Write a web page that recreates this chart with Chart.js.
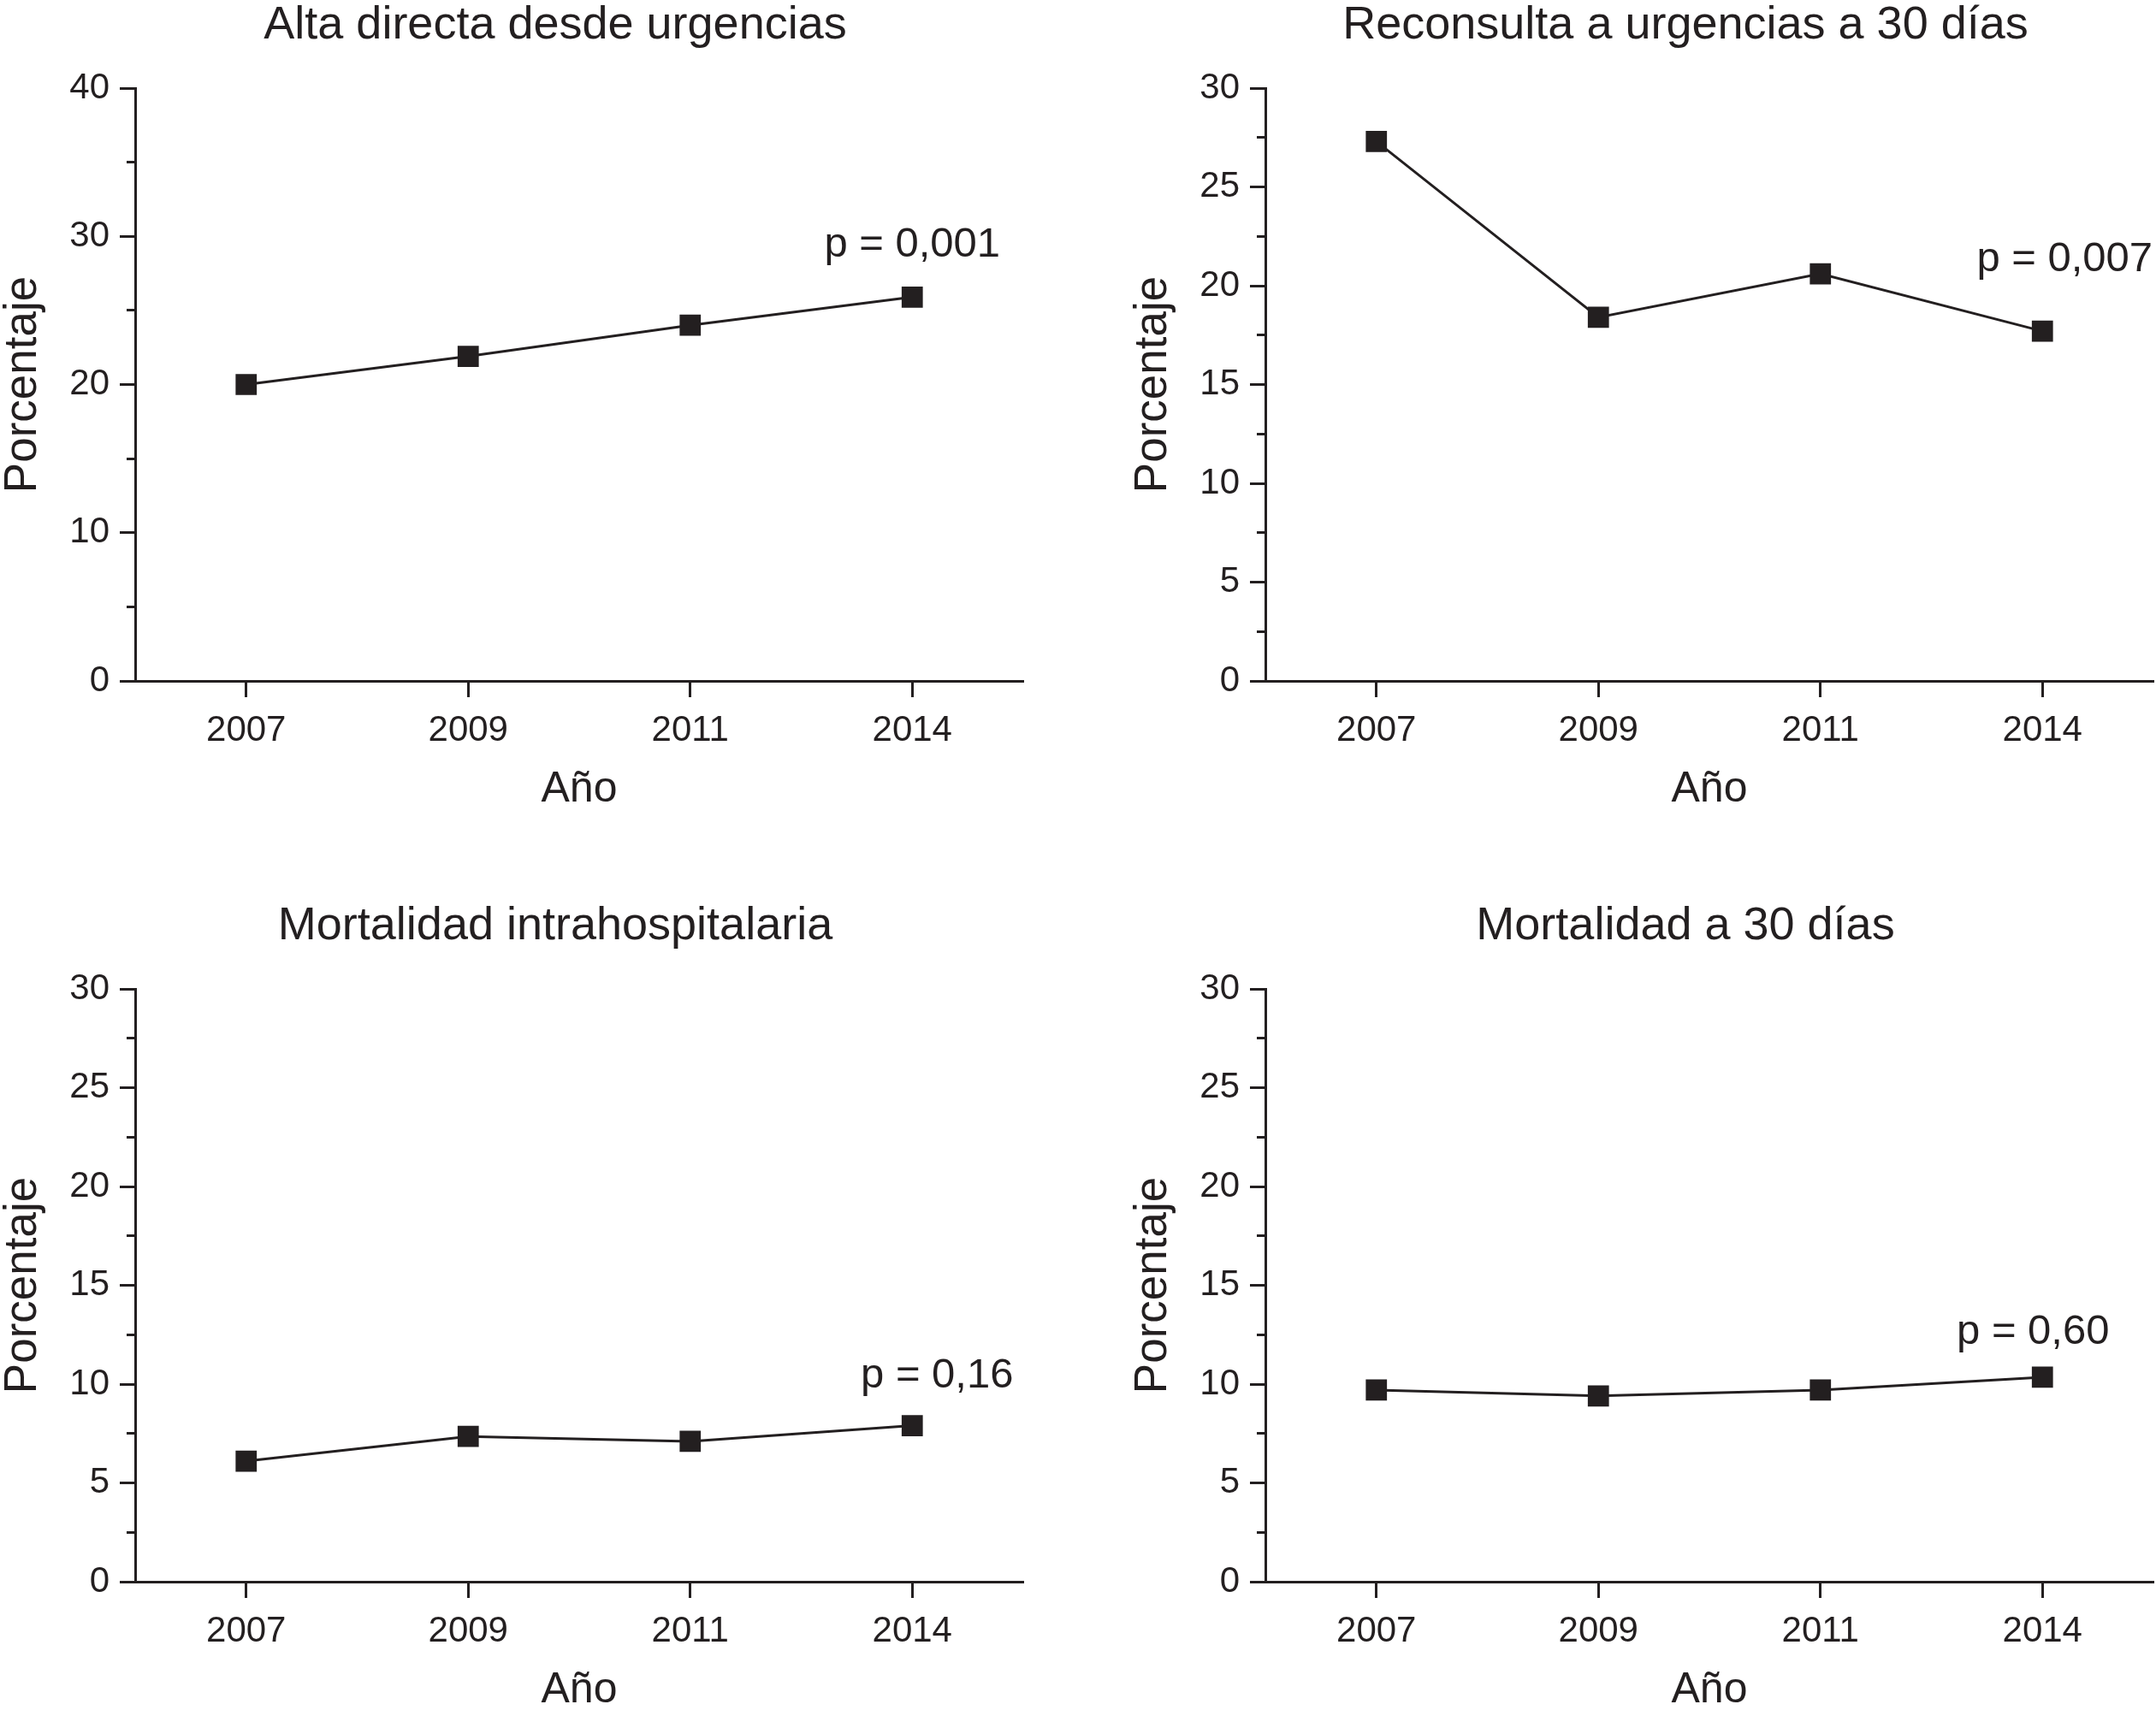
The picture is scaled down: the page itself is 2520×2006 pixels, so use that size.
<!DOCTYPE html>
<html lang="es">
<head>
<meta charset="utf-8">
<title>Evolución 2007-2014</title>
<script src="https://cdn.jsdelivr.net/npm/chart.js@4.4.1/dist/chart.umd.min.js"></script>
<style>
  html, body { margin: 0; padding: 0; background: #fff; overflow: hidden; }
  body { width: 2520px; height: 2006px; position: relative; }
  canvas { position: absolute; }
</style>
</head>
<body>
<canvas id="c0" width="1260" height="953" style="left:0px;top:0px"></canvas>
<canvas id="c1" width="1260" height="953" style="left:1321px;top:0px"></canvas>
<canvas id="c2" width="1260" height="953" style="left:0px;top:1053px"></canvas>
<canvas id="c3" width="1260" height="953" style="left:1321px;top:1053px"></canvas>
<script>
// datos
const years = ['2007', '2009', '2011', '2014'];
const altaDirecta = [20.0, 21.9, 24.0, 25.9];
const reconsulta = [27.3, 18.4, 20.6, 17.7];
const mortalidadIntra = [6.1, 7.35, 7.1, 7.9];
const mortalidad30 = [9.7, 9.4, 9.7, 10.35];

const titles = ['Alta directa desde urgencias', 'Reconsulta a urgencias a 30 días',
                'Mortalidad intrahospitalaria', 'Mortalidad a 30 días'];
const pTexts = ['p = 0,001', 'p = 0,007', 'p = 0,16', 'p = 0,60'];
const yMax = [40, 30, 30, 30];
const majorStep = [10, 5, 5, 5];
const minorStep = [5, 2.5, 2.5, 2.5];

// colocación de las etiquetas p (valor del eje y, desplazamiento en px)
const pAt = [29.4, 21.3, 10.4, 12.6];
const pDx = [0, 26, 29, -11];

const series = [altaDirecta, reconsulta, mortalidadIntra, mortalidad30];
const ink = '#231f20';
const family = "'Liberation Sans', Arial, Helvetica, sans-serif";

Chart.defaults.font.family = family;
Chart.defaults.color = ink;

// título del panel y valor p
const panelText = {
  id: 'panelText',
  afterDraw(chart, args, opts) {
    const { ctx, chartArea, scales } = chart;
    ctx.save();
    ctx.fillStyle = ink;
    ctx.textAlign = 'center';
    ctx.textBaseline = 'middle';
    ctx.font = '54px ' + family;
    ctx.fillText(opts.title, (chartArea.left + chartArea.right) / 2 - 28, 30);
    ctx.font = '49px ' + family;
    ctx.fillText(opts.pText, scales.x.getPixelForValue(3) + opts.dx, scales.y.getPixelForValue(opts.at));
    ctx.restore();
  }
};

for (let i = 0; i < 4; i++) {
  const ctx = document.getElementById('c' + i).getContext('2d');
  new Chart(ctx, {
    type: 'line',
    data: {
      labels: years,
      datasets: [{
        data: series[i],
        borderColor: ink,
        borderWidth: 3,
        tension: 0,
        fill: false,
        pointStyle: 'rect',
        pointRadius: 17.5,
        pointBackgroundColor: ink,
        pointBorderWidth: 0
      }]
    },
    options: {
      responsive: false,
      devicePixelRatio: 1,
      animation: false,
      layout: { padding: { top: 103, right: 64, left: 0, bottom: 0 } },
      plugins: {
        legend: { display: false },
        tooltip: { enabled: false },
        panelText: { title: titles[i], pText: pTexts[i], at: pAt[i], dx: pDx[i] }
      },
      scales: {
        x: {
          type: 'category',
          offset: true,
          grid: { offset: false, drawOnChartArea: false, drawTicks: true, tickLength: 19, tickWidth: 3, tickColor: ink },
          border: { display: true, width: 3, color: ink },
          ticks: { font: { size: 42 }, padding: 14, maxRotation: 0, color: ink },
          title: { display: true, text: 'Año', font: { size: 50, lineHeight: 1.2 }, padding: { top: 0, bottom: 0 }, color: ink },
          afterFit: (s) => { s.height = 157; }
        },
        y: {
          position: 'left',
          weight: 1,
          min: 0,
          max: yMax[i],
          grid: { drawOnChartArea: false, drawTicks: true, tickLength: 18, tickWidth: 3, tickColor: ink },
          border: { display: true, width: 3, color: ink },
          ticks: { stepSize: majorStep[i], font: { size: 42 }, padding: 12, color: ink },
          title: { display: true, text: 'Porcentaje', font: { size: 53, lineHeight: 1 }, padding: { top: 1, bottom: 0 }, color: ink },
          afterFit: (s) => { s.width = 158; }
        },
        yMinor: {
          position: 'left',
          weight: 0,
          min: 0,
          max: yMax[i],
          grid: { drawOnChartArea: false, drawTicks: true, tickLength: 10, tickWidth: 3, tickColor: ink },
          border: { display: false },
          ticks: { stepSize: minorStep[i], display: false },
          afterFit: (s) => { s.width = 0; }
        }
      }
    },
    plugins: [panelText]
  });
}
</script>
</body>
</html>
